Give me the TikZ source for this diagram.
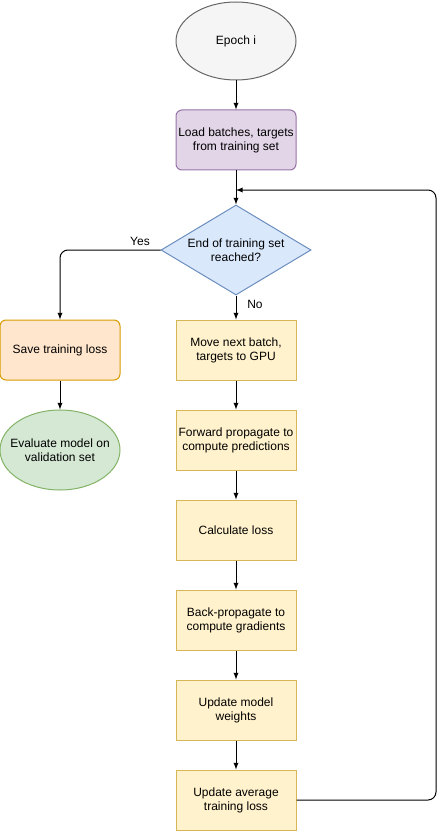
\documentclass[tikz,border=0pt]{standalone}
\usepackage{fontspec}
\setmainfont{Liberation Sans}
\usetikzlibrary{shapes.geometric, calc}
\tikzset{>=latex}

\definecolor{grayfill}{HTML}{F5F5F5}
\definecolor{grayline}{HTML}{666666}
\definecolor{purplefill}{HTML}{E1D5E7}
\definecolor{purpleline}{HTML}{9673A6}
\definecolor{bluefill}{HTML}{DAE8FC}
\definecolor{blueline}{HTML}{6C8EBF}
\definecolor{orangefill}{HTML}{FFE6CC}
\definecolor{orangeline}{HTML}{D79B00}
\definecolor{greenfill}{HTML}{D5E8D4}
\definecolor{greenline}{HTML}{82B366}
\definecolor{yellowfill}{HTML}{FFF2CC}
\definecolor{yellowline}{HTML}{D6B656}

\tikzset{
    txt/.style = {font=\fontsize{9}{10.5}\selectfont, align=center},
    stepbox/.style = {txt, draw=yellowline, fill=yellowfill, line width=0.75pt,
        minimum width=90pt, minimum height=45pt, inner sep=0pt},
    roundbox/.style = {stepbox, rounded corners=4.5pt},
    oval/.style = {txt, ellipse, line width=0.75pt, minimum width=90pt,
        minimum height=60pt, inner sep=0pt},
    flow/.style = {->, line width=0.75pt},
}

\begin{document}
\begin{tikzpicture}[x=0.75pt, y=-0.75pt]

    \useasboundingbox (0,0) rectangle (444,831);

    \node[oval, draw=grayline, fill=grayfill, minimum height=58.5pt] (epoch) at (236,41) {Epoch i};
    \node[roundbox, draw=purpleline, fill=purplefill] (load) at (236,140) {Load batches, targets\\from training set};

    \node[txt, diamond, aspect=1.667, draw=blueline, fill=bluefill, line width=0.75pt,
          minimum width=112.5pt, minimum height=67.5pt, inner sep=0pt] (check) at (236,250)
          {End of training set\\reached?};

    \node[roundbox, draw=orangeline, fill=orangefill] (save) at (60,350) {Save training loss};
    \node[oval, draw=greenline, fill=greenfill, inner xsep=-8pt] (eval) at (60,450) {Evaluate model on\\validation set};

    % training steps
    \node[stepbox] (move) at (236,350) {Move next batch,\\targets to GPU};
    \node[stepbox] (fwd) at (236,440) {Forward propagate to\\compute predictions};
    \node[stepbox] (loss) at (236,530) {Calculate loss};
    \node[stepbox] (back) at (236,620) {Back-propagate to\\compute gradients};
    \node[stepbox] (upd) at (236,710) {Update model\\weights};
    \node[stepbox] (avg) at (236,800) {Update average\\training loss};

    \coordinate (loopin) at (236,190);
    \coordinate (loopright) at (436,190);

    \draw[flow] (epoch) -- (load);
    \draw[flow] (load) -- (check);
    \draw[flow] (check) -- (move);
    \draw[flow] (move) -- (fwd);
    \draw[flow] (fwd) -- (loss);
    \draw[flow] (loss) -- (back);
    \draw[flow] (back) -- (upd);
    \draw[flow] (upd) -- (avg);
    \draw[flow] (save) -- (eval);
    \draw[flow, rounded corners=6pt] (check.west) -| (save.north);
    \draw[flow, rounded corners=6pt] (avg.east) -| (loopright) -- (loopin);

    \node[txt] (yes) at (140,241) {Yes};
    \node[txt] (no) at (255,304) {No};

\end{tikzpicture}
\end{document}
